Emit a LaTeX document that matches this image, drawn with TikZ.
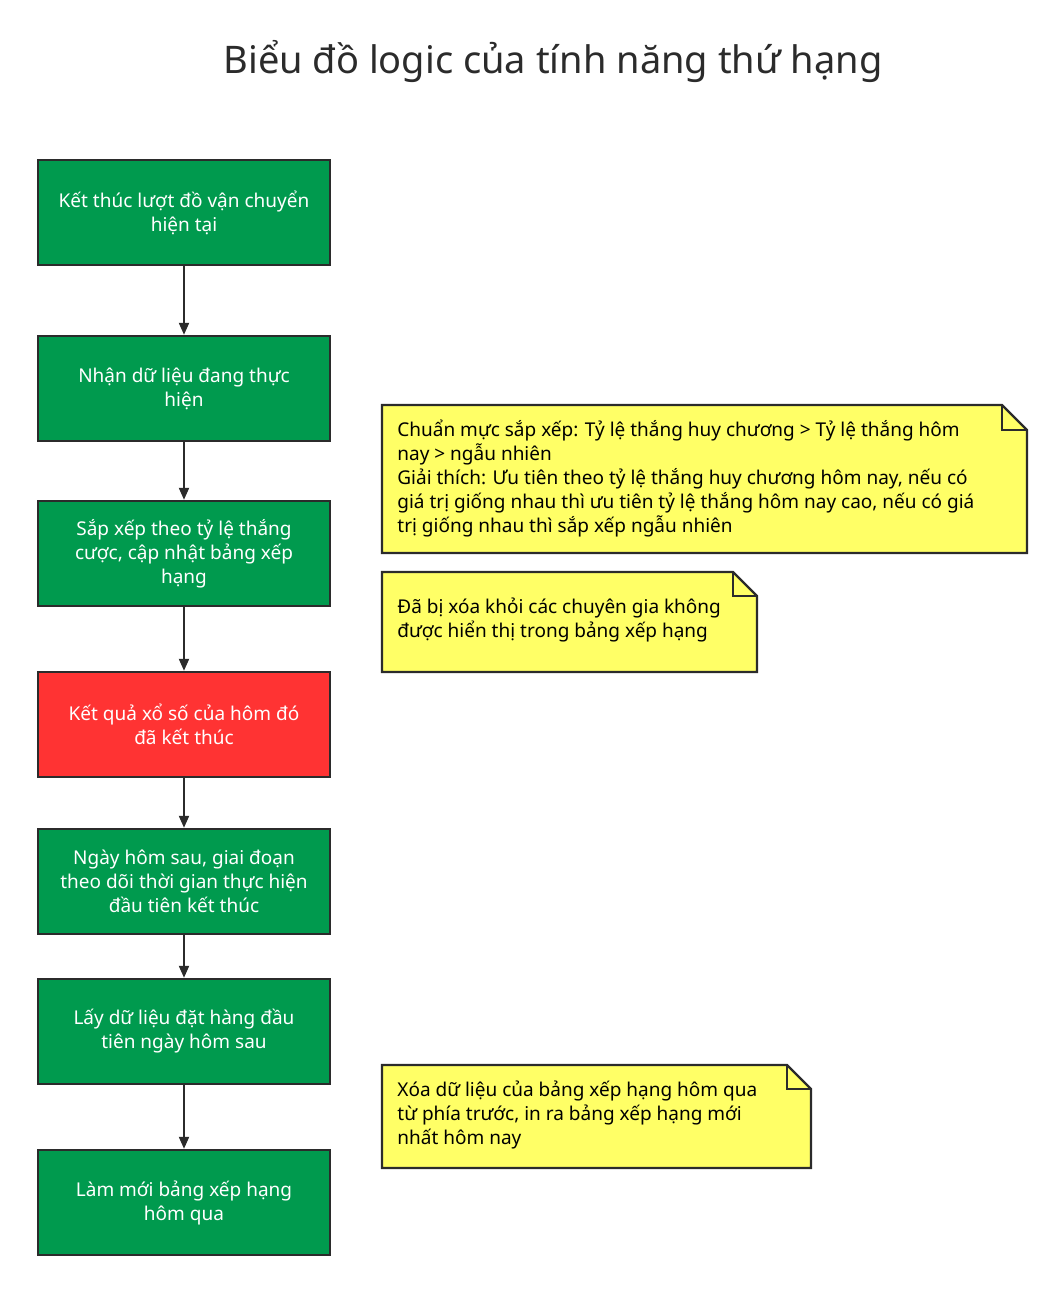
\documentclass[tikz,border=0pt]{standalone}
\usepackage{fontspec}
\setmainfont{Noto Sans}
\usetikzlibrary{arrows.meta}
\definecolor{gr}{HTML}{009A4E}
\definecolor{rd}{HTML}{FF3333}
\definecolor{yl}{HTML}{FFFF66}
\definecolor{ln}{HTML}{2B2B2B}
\begin{document}
\begin{tikzpicture}[x=0.5pt,y=-0.5pt,
  box/.style={draw=ln,line width=1.2pt,fill=gr,text=white,minimum width=146pt,minimum height=52.5pt,align=center,font=\fontsize{9.5}{12}\selectfont,inner sep=2pt},
  arr/.style={draw=ln,line width=1pt,-{Triangle[length=6pt,width=5pt]}},
  note/.style={draw=ln,line width=1.2pt,fill=yl},
  nt/.style={anchor=north west,align=left,font=\fontsize{9.5}{12}\selectfont,inner sep=0pt}]
\useasboundingbox (0,0) rectangle (1063,1292);
\node[font=\fontsize{19}{22}\selectfont\bfseries,text=ln] (title) at (553,62) {Biểu đồ logic của tính năng thứ hạng};
\node[box] (b1) at (184,212.5) {Kết thúc lượt đồ vận chuyển\\hiện tại};
\node[box] (b2) at (184,388.5) {Nhận dữ liệu đang thực\\hiện};
\node[box] (b3) at (184,553.5) {Sắp xếp theo tỷ lệ thắng\\cược, cập nhật bảng xếp\\hạng};
\node[box,fill=rd] (b4) at (184,724.5) {Kết quả xổ số của hôm đó\\đã kết thúc};
\node[box] (b5) at (184,881.5) {Ngày hôm sau, giai đoạn\\theo dõi thời gian thực hiện\\đầu tiên kết thúc};
\node[box] (b6) at (184,1031.5) {Lấy dữ liệu đặt hàng đầu\\tiên ngày hôm sau};
\node[box] (b7) at (184,1202.5) {Làm mới bảng xếp hạng\\hôm qua};
\draw[arr] (b1) -- (b2);
\draw[arr] (b2) -- (b3);
\draw[arr] (b3) -- (b4);
\draw[arr] (b4) -- (b5);
\draw[arr] (b5) -- (b6);
\draw[arr] (b6) -- (b7);
% notes
\draw[note] (382,405) -- (1002,405) -- (1027,430) -- (1027,553) -- (382,553) -- cycle;
\draw[ln,line width=1.2pt] (1002,405) -- (1002,430) -- (1027,430);
\node[nt] (n1) at (397,420) {Chuẩn mực sắp xếp: Tỷ lệ thắng huy chương > Tỷ lệ thắng hôm\\nay > ngẫu nhiên\\Giải thích: Ưu tiên theo tỷ lệ thắng huy chương hôm nay, nếu có\\giá trị giống nhau thì ưu tiên tỷ lệ thắng hôm nay cao, nếu có giá\\trị giống nhau thì sắp xếp ngẫu nhiên};
\draw[note] (382,572) -- (733,572) -- (757,596) -- (757,672) -- (382,672) -- cycle;
\draw[ln,line width=1.2pt] (733,572) -- (733,596) -- (757,596);
\node[nt] (n2) at (397,597) {Đã bị xóa khỏi các chuyên gia không\\được hiển thị trong bảng xếp hạng};
\draw[note] (382,1065) -- (787,1065) -- (811,1089) -- (811,1168) -- (382,1168) -- cycle;
\draw[ln,line width=1.2pt] (787,1065) -- (787,1089) -- (811,1089);
\node[nt] (n3) at (397,1080) {Xóa dữ liệu của bảng xếp hạng hôm qua\\từ phía trước, in ra bảng xếp hạng mới\\nhất hôm nay};
\end{tikzpicture}
\end{document}
